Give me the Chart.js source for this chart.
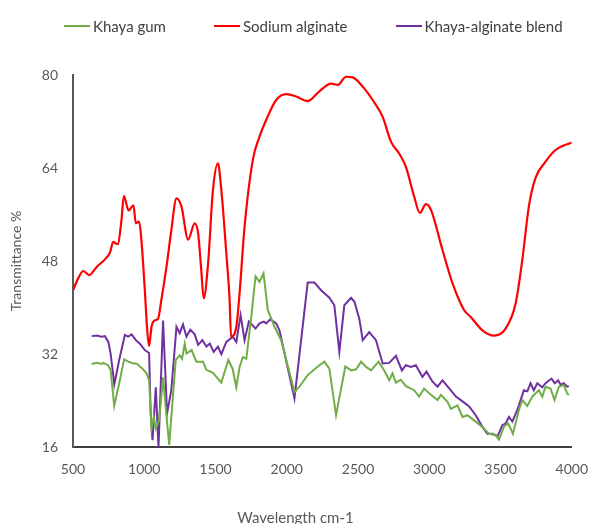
<!DOCTYPE html>
<html>
<head>
<meta charset="utf-8">
<script src="https://cdn.jsdelivr.net/npm/chart.js@4.4.1/dist/chart.umd.min.js"></script>
<style>
	body { margin: 0; background: #fff; }
	#wrap { position: relative; width: 591px; height: 524px; }
	#legend { position: absolute; top: 17px; left: 64px; display: flex; align-items: center; font: 15px Lato, sans-serif; color: #404040; }
	#legend .item { display: flex; align-items: center; margin-right: 48px; white-space: nowrap; }
	#legend .swatch { width: 26px; height: 2px; margin-right: 3px; }
</style>
</head>
<body>
<div id="wrap">
	<div id="legend"></div>
	<canvas id="irChart" width="591" height="524"></canvas>
</div>
<script>
// wavenumber (cm-1) and transmittance (%)
const khayaWave = [631, 666, 701, 712, 747, 764, 789, 824, 859, 888, 922, 946, 987, 1016, 1034, 1051, 1067, 1081, 1104, 1132, 1150, 1175, 1221, 1249, 1265, 1284, 1296, 1332, 1366, 1412, 1436, 1482, 1541, 1590, 1620, 1646, 1669, 1692, 1716, 1751, 1781, 1809, 1837, 1867, 1914, 1961, 2054, 2089, 2147, 2229, 2264, 2299, 2346, 2411, 2452, 2487, 2522, 2557, 2592, 2644, 2684, 2719, 2742, 2766, 2800, 2836, 2894, 2929, 2964, 3012, 3058, 3082, 3128, 3152, 3198, 3233, 3268, 3326, 3384, 3419, 3466, 3489, 3524, 3554, 3587, 3629, 3653, 3688, 3723, 3769, 3793, 3816, 3851, 3879, 3909, 3944, 3968, 3980]
const khayaT = [30.3, 30.5, 30.3, 30.5, 30.1, 29.3, 23.1, 27.0, 31.1, 30.7, 30.4, 30.4, 29.5, 28.7, 27.5, 19.2, 21.2, 19.2, 20.6, 28.0, 23.0, 16.4, 31.0, 31.8, 31.2, 33.8, 32.1, 32.7, 30.7, 30.7, 29.3, 28.8, 27.1, 31.0, 29.5, 26.3, 29.8, 31.5, 31.2, 38.4, 45.4, 44.4, 45.9, 39.6, 36.7, 34.4, 25.5, 26.4, 28.4, 30.1, 30.7, 29.5, 21.5, 29.9, 29.2, 29.4, 30.7, 29.8, 29.2, 30.7, 29.2, 27.5, 28.7, 27.1, 27.6, 26.5, 25.8, 24.7, 26.1, 25.0, 24.1, 25.0, 23.8, 22.6, 23.2, 21.2, 21.5, 20.4, 19.2, 18.3, 18.1, 17.3, 19.5, 20.1, 18.3, 22.4, 24.1, 23.1, 24.7, 25.8, 24.7, 26.4, 26.1, 24.1, 26.4, 26.7, 25.2, 25.0]

const alginateWave = [500, 540, 572, 614, 666, 724, 760, 782, 813, 840, 857, 890, 924, 941, 964, 980, 1004, 1021, 1034, 1051, 1074, 1097, 1120, 1156, 1190, 1226, 1261, 1308, 1354, 1378, 1400, 1417, 1448, 1482, 1517, 1541, 1576, 1599, 1609, 1646, 1669, 1704, 1762, 1809, 1856, 1926, 1997, 2066, 2147, 2229, 2311, 2358, 2416, 2463, 2533, 2603, 2673, 2732, 2789, 2836, 2894, 2934, 2977, 3012, 3093, 3163, 3244, 3291, 3373, 3454, 3536, 3606, 3653, 3699, 3746, 3816, 3886, 4000]
const alginateT = [43.0, 45.2, 46.3, 45.6, 47.0, 48.3, 49.5, 51.3, 50.9, 55.0, 59.2, 56.7, 57.6, 54.5, 54.8, 51.6, 43.0, 36.1, 33.4, 36.7, 37.8, 38.1, 41.3, 47.0, 53.3, 58.8, 57.4, 51.7, 54.5, 52.8, 46.5, 41.6, 47.6, 60.2, 64.8, 60.2, 49.3, 41.3, 35.0, 36.7, 42.5, 53.9, 65.4, 69.4, 72.3, 75.7, 76.7, 76.3, 75.5, 77.2, 78.5, 78.3, 79.7, 79.6, 78.0, 75.7, 72.8, 68.5, 66.5, 64.2, 59.1, 56.3, 57.8, 56.8, 49.9, 44.2, 39.6, 38.4, 36.1, 35.2, 36.4, 40.7, 48.2, 57.4, 62.3, 65.1, 67.1, 68.4]

const blendWave = [631, 666, 701, 724, 748, 764, 790, 824, 864, 887, 911, 941, 969, 1004, 1034, 1045, 1058, 1081, 1100, 1132, 1160, 1190, 1226, 1249, 1272, 1296, 1323, 1354, 1378, 1408, 1436, 1460, 1487, 1517, 1541, 1576, 1622, 1646, 1676, 1704, 1734, 1781, 1809, 1839, 1856, 1884, 1926, 1949, 2054, 2147, 2194, 2241, 2299, 2334, 2369, 2404, 2451, 2475, 2509, 2533, 2579, 2626, 2673, 2719, 2766, 2808, 2836, 2871, 2906, 2952, 2980, 3022, 3058, 3093, 3140, 3187, 3222, 3280, 3326, 3373, 3408, 3443, 3461, 3478, 3513, 3536, 3559, 3583, 3618, 3649, 3664, 3688, 3711, 3734, 3758, 3793, 3816, 3858, 3881, 3905, 3922, 3944, 3968, 3980]
const blendT = [35.1, 35.2, 35.0, 35.1, 34.1, 32.1, 26.8, 31.0, 35.3, 35.0, 35.4, 34.4, 33.8, 32.7, 32.2, 21.8, 17.2, 26.3, 16.0, 37.8, 21.8, 25.8, 36.7, 35.6, 37.1, 35.0, 36.2, 35.4, 33.6, 34.4, 33.3, 33.8, 32.4, 33.3, 32.0, 34.1, 35.0, 34.1, 38.7, 34.4, 37.6, 36.4, 37.3, 37.6, 37.3, 38.0, 37.3, 36.1, 24.4, 44.3, 44.3, 43.0, 41.7, 40.4, 32.4, 40.4, 41.7, 41.0, 38.1, 34.4, 35.8, 34.4, 30.4, 30.5, 31.7, 29.2, 30.1, 29.8, 30.1, 28.1, 29.0, 27.3, 26.4, 27.5, 26.1, 24.7, 24.1, 23.0, 21.5, 19.5, 18.3, 18.3, 18.1, 17.8, 19.8, 20.1, 21.2, 20.4, 22.4, 24.7, 25.8, 25.6, 27.0, 25.8, 27.0, 26.3, 27.0, 27.8, 27.0, 27.5, 26.7, 27.0, 26.4, 26.5]

const seriesNames = ['Khaya gum', 'Sodium alginate', 'Khaya-alginate blend']
const xTicks = { min: 500, max: 4000, step: 500 }
const yTicks = { min: 16, max: 80, step: 16 }

const FONT = 'Lato'
const toPoints = (xs, ys) => xs.map((x, i) => ({ x: x, y: ys[i] }))

// legend drawn as html, same labels chart.js would make
const htmlLegend = {
	id: 'htmlLegend',
	afterUpdate(chart) {
		const box = document.getElementById('legend')
		box.innerHTML = ''
		const items = chart.options.plugins.legend.labels.generateLabels(chart)
		items.forEach(item => {
			const el = document.createElement('div')
			el.className = 'item'
			const sw = document.createElement('span')
			sw.className = 'swatch'
			sw.style.background = item.strokeStyle
			const txt = document.createElement('span')
			txt.textContent = item.text
			el.appendChild(sw)
			el.appendChild(txt)
			box.appendChild(el)
		})
	},
}

const ctx = document.getElementById('irChart').getContext('2d')
const irChart = new Chart(ctx, {
	type: 'line',
	data: {
		datasets: [
			{
				label: seriesNames[0],
				data: toPoints(khayaWave, khayaT),
				borderColor: '#70AD47',
				backgroundColor: '#70AD47',
				borderWidth: 2,
				tension: 0,
			},
			{
				label: seriesNames[1],
				data: toPoints(alginateWave, alginateT),
				borderColor: '#FF0000',
				backgroundColor: '#FF0000',
				borderWidth: 2.2,
				cubicInterpolationMode: 'monotone',
			},
			{
				label: seriesNames[2],
				data: toPoints(blendWave, blendT),
				borderColor: '#7030A0',
				backgroundColor: '#7030A0',
				borderWidth: 2,
				tension: 0,
			},
		],
	},
	options: {
		responsive: false,
		animation: false,
		layout: {
			padding: { top: 75, left: 0, right: 0, bottom: -3 },
		},
		elements: {
			point: { radius: 0 },
		},
		plugins: {
			legend: { display: false },
			tooltip: { enabled: false },
			title: {
				display: true,
				position: 'bottom',
				text: 'Wavelength cm-1',
				color: '#595959',
				font: { family: FONT, size: 15, weight: 'normal' },
				padding: { top: 28, bottom: 0 },
			},
		},
		scales: {
			x: {
				type: 'linear',
				min: xTicks.min,
				max: xTicks.max,
				// hidden grid, tick length only pushes the labels down
				grid: { display: false, tickLength: 11 },
				border: { display: true, color: '#404040', width: 2 },
				ticks: {
					stepSize: xTicks.step,
					padding: 3,
					color: '#595959',
					font: { family: FONT, size: 14 },
					callback: v => String(v),
				},
			},
			y: {
				min: yTicks.min,
				max: yTicks.max,
				grid: { display: false, tickLength: 12 },
				border: { display: true, color: '#595959', width: 2 },
				ticks: {
					stepSize: yTicks.step,
					padding: 3,
					color: '#595959',
					font: { family: FONT, size: 14 },
				},
				title: {
					display: true,
					text: 'Transmittance %',
					color: '#595959',
					font: { family: FONT, size: 14 },
					padding: { top: 8, bottom: 0 },
				},
				afterFit: scale => {
					scale.width = 73
				},
			},
		},
	},
	plugins: [htmlLegend],
})
</script>
</body>
</html>
